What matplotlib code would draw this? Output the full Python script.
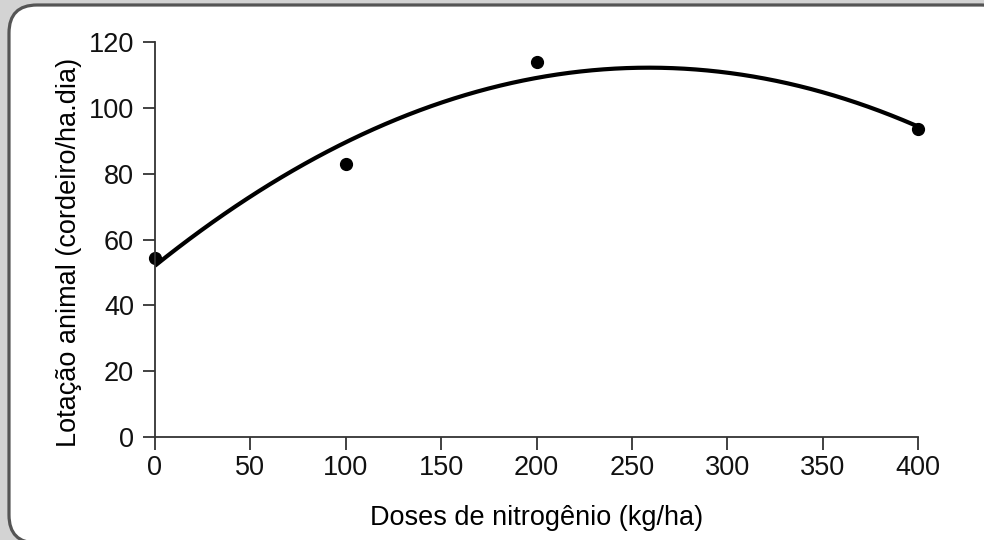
import numpy as np
import matplotlib.pyplot as plt
from matplotlib.patches import FancyBboxPatch

plt.rcParams['font.family'] = ['Liberation Sans', 'DejaVu Sans']

# dados
doses = [0, 100, 200, 400]
lotacao = [54.5, 83, 114, 93.5]
xticks = [0, 50, 100, 150, 200, 250, 300, 350, 400]
yticks = [0, 20, 40, 60, 80, 100, 120]

fig = plt.figure(figsize=(9.84, 5.4), dpi=100, facecolor='#d3d3d3')

# moldura arredondada
box = FancyBboxPatch((9, -3), 1000, 538, boxstyle='round,pad=0,rounding_size=28',
                     transform=None, facecolor='white', edgecolor='#555555',
                     linewidth=2.3, zorder=-5)
fig.patches.append(box)

ax = fig.add_axes([0.1575, 0.1907, 0.933 - 0.1575, 0.9222 - 0.1907])
ax.patch.set_alpha(0)

# ajuste quadratico
coef = np.polyfit(doses, lotacao, 2)
xs = np.linspace(0, 400, 200)
ax.plot(xs, np.polyval(coef, xs), color='black', lw=3, solid_capstyle='butt')
ax.plot(doses, lotacao, 'o', color='black', ms=8.5, clip_on=False)

ax.set_xlim(0, 400)
ax.set_ylim(0, 120)
ax.set_xticks(xticks)
ax.set_yticks(yticks)

for s in ['top', 'right']:
    ax.spines[s].set_visible(False)
for s in ['left', 'bottom']:
    ax.spines[s].set_color('#333333')
    ax.spines[s].set_linewidth(1.3)

ax.tick_params(axis='both', length=9, width=1.3, color='#333333',
               labelsize=19.5, labelcolor='#111111')
ax.tick_params(axis='y', pad=6)
ax.tick_params(axis='x', pad=4)

ax.set_xlabel('Doses de nitrogênio (kg/ha)', fontsize=19.5, labelpad=17)
ax.set_ylabel('Lotação animal (cordeiro/ha.dia)', fontsize=19.5, labelpad=5)
ax.yaxis.label.set_y(0.467)

fig.savefig('out.png', dpi=100, facecolor=fig.get_facecolor())
